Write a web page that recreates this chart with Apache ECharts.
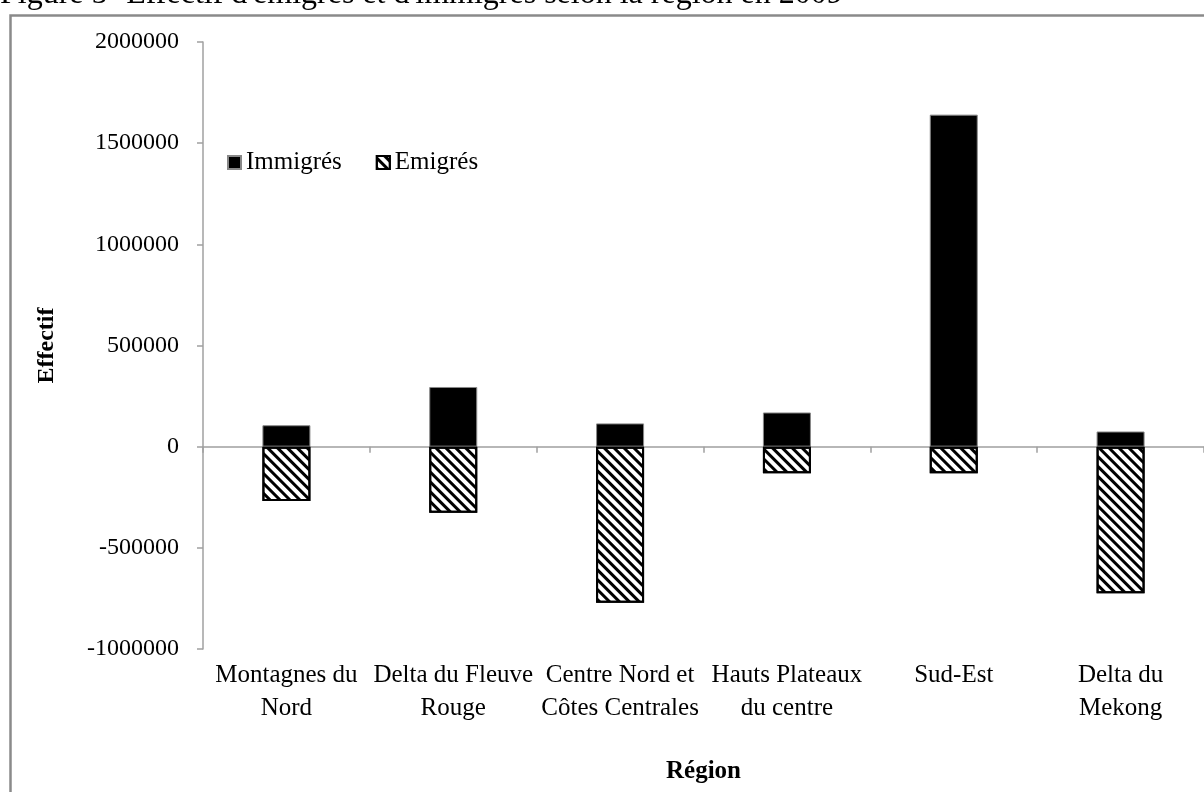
<!DOCTYPE html>
<html>
<head>
<meta charset="utf-8">
<script src="https://cdn.jsdelivr.net/npm/echarts@6/dist/echarts.min.js"></script>
<style>
  html, body { margin: 0; padding: 0; background: #fff; }
  #chart { width: 1204px; height: 792px; }
</style>
</head>
<body>
<div id="chart"></div>
<script>
// regions (x axis)
const regions = [
  'Montagnes du\nNord',
  'Delta du Fleuve\nRouge',
  'Centre Nord et\nCôtes Centrales',
  'Hauts Plateaux\ndu centre',
  'Sud-Est',
  'Delta du\nMekong'
]
// values
const immigres = [106000, 295000, 115000, 169000, 1641000, 75000]
const emigres = [-269000, -327000, -772000, -132000, -132000, -725000]

const titleText = "Figure 5- Effectif d'émigrés et d'immigrés selon la région en 2009"
const serif = '"Liberation Serif", "Times New Roman", serif'

let myChart = echarts.init(document.getElementById('chart'))
let option = {
  animation: false,
  textStyle: { fontFamily: serif, color: '#000' },
  graphic: [
    {
      type: 'text', left: 0, top: -21,
      style: { text: titleText, font: '32px ' + serif, fill: '#000' }
    },
    {
      type: 'rect', left: 8, top: 13, silent: true,
      shape: { width: 1300, height: 900 },
      style: { fill: 'none', stroke: '#8a8a8a', lineWidth: 2.5 }
    }
  ],
  legend: {
    left: 222, top: 145,
    itemWidth: 13, itemHeight: 13, itemGap: 34,
    icon: 'rect',
    textStyle: { fontFamily: serif, fontSize: 25, color: '#000' },
    data: ['Immigrés', 'Emigrés']
  },
  grid: { left: 203, right: 0, top: 42, bottom: 143 },
  xAxis: [
    {
      type: 'category',
      data: regions,
      axisLine: { onZero: true, lineStyle: { color: '#a0a0a0', width: 1.5 } },
      axisTick: { show: true, length: 6, lineStyle: { color: '#a0a0a0', width: 1.5 } },
      axisLabel: { show: false }
    },
    {
      type: 'category',
      data: regions,
      position: 'bottom',
      axisLine: { show: false, onZero: false },
      axisTick: { show: false },
      axisLabel: { fontSize: 25, lineHeight: 33, margin: 10, color: '#000', interval: 0 },
      name: 'Région',
      nameLocation: 'middle',
      nameGap: 110,
      nameTextStyle: { fontSize: 25, fontWeight: 'bold', color: '#000' }
    }
  ],
  yAxis: {
    type: 'value',
    min: -1000000,
    max: 2000000,
    interval: 500000,
    axisLine: { show: true, lineStyle: { color: '#a0a0a0', width: 1.5 } },
    axisTick: { show: true, length: 6, lineStyle: { color: '#a0a0a0', width: 1.5 } },
    splitLine: { show: false },
    axisLabel: { fontSize: 24, margin: 24, color: '#000', formatter: v => String(v) },
    name: 'Effectif',
    nameLocation: 'middle',
    nameGap: 144,
    nameTextStyle: { fontSize: 24, fontWeight: 'bold', color: '#000' }
  },
  series: [
    {
      name: 'Immigrés',
      type: 'bar',
      xAxisIndex: 0,
      data: immigres,
      barWidth: 48,
      barGap: '-100%',
      itemStyle: { color: '#000', borderColor: '#888', borderWidth: 1 }
    },
    {
      name: 'Emigrés',
      type: 'bar',
      xAxisIndex: 0,
      data: emigres,
      barWidth: 48,
      barGap: '-100%',
      itemStyle: {
        color: '#fff',
        borderColor: '#000',
        borderWidth: 2,
        decal: {
          symbol: 'rect',
          symbolSize: 1,
          color: '#000',
          dashArrayX: [1, 0],
          dashArrayY: [3, 4],
          rotation: Math.PI / 4
        }
      }
    }
  ]
}
myChart.setOption(option)
</script>
</body>
</html>
